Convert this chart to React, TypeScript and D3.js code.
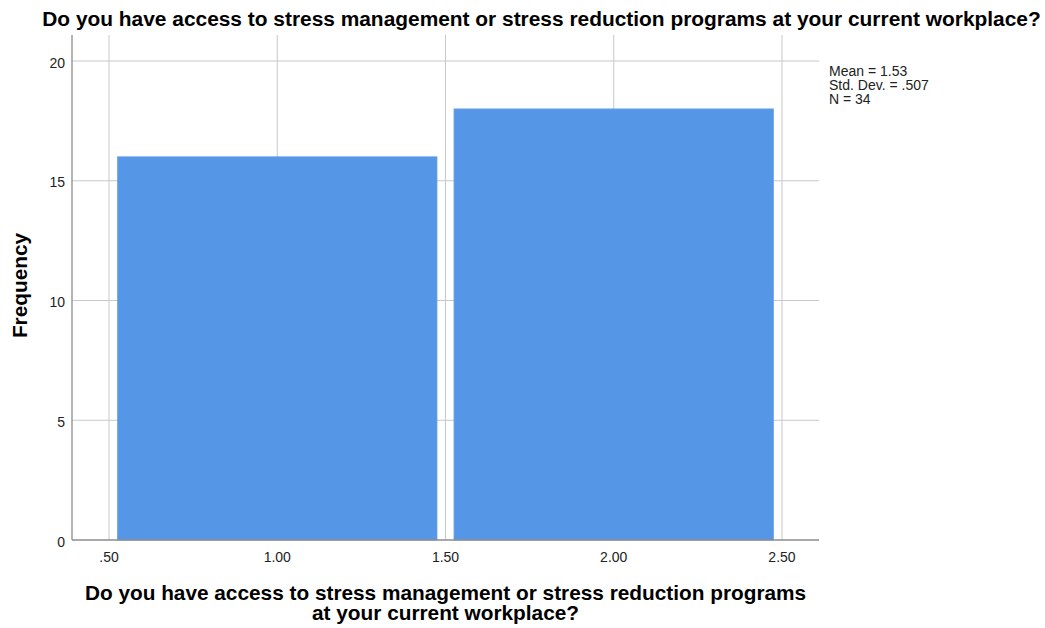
import React from "react";
import * as d3 from "d3";

const binStarts = [0.5, 1.5];
const binEnds = [1.5, 2.5];
const frequencies = [16, 18];
const xTicks = [0.5, 1.0, 1.5, 2.0, 2.5];
const xTickLabels = [".50", "1.00", "1.50", "2.00", "2.50"];
const yTicks = [0, 5, 10, 15, 20];
const statsLines = ["Mean = 1.53", "Std. Dev. = .507", "N = 34"];
const titleText = "Do you have access to stress management or stress reduction programs at your current workplace?";
const xLabelLines = [
  "Do you have access to stress management or stress reduction programs",
  "at your current workplace?",
];
const yLabelText = "Frequency";

const W = 1045;
const H = 628;
const left = 72;
const right = 819;
const top = 35;
const bottom = 540;
const FONT = "'Liberation Sans', Arial, sans-serif";

export default function App() {
  const x = d3.scaleLinear().domain([0.39, 2.61]).range([left, right]);
  const y = d3.scaleLinear().domain([0, 20]).range([bottom, 61]);
  const inset = 8.5;

  return (
    <svg
      width={W}
      height={H}
      style={{ position: "absolute", left: 0, top: 0, background: "#fff" }}
      fontFamily={FONT}
    >
      <rect x={0} y={0} width={W} height={H} fill="#fff" />
      {/* grid lines */}
      {yTicks.filter((t) => t > 0).map((t) => (
        <line key={"gy" + t} x1={left} x2={right} y1={y(t)} y2={y(t)} stroke="#c8c8c8" strokeWidth={1} />
      ))}
      {xTicks.map((t) => (
        <line key={"gx" + t} x1={x(t)} x2={x(t)} y1={top} y2={bottom} stroke="#c8c8c8" strokeWidth={1} />
      ))}
      {/* bars */}
      {frequencies.map((f, i) => (
        <rect
          key={"b" + i}
          x={x(binStarts[i]) + inset}
          y={y(f)}
          width={x(binEnds[i]) - x(binStarts[i]) - 2 * inset}
          height={bottom - y(f)}
          fill="#5596e6"
          stroke="#6aa3ea"
          strokeWidth={0.8}
        />
      ))}
      {/* axes */}
      <line x1={left} x2={left} y1={top} y2={bottom} stroke="#8c8c8c" strokeWidth={1.3} />
      <line x1={left} x2={right} y1={bottom} y2={bottom} stroke="#8c8c8c" strokeWidth={1.3} />
      {yTicks.map((t) => (
        <text key={"yl" + t} x={left - 7} y={y(t) + 6.5} textAnchor="end" fontSize={14} fill="#222">
          {t}
        </text>
      ))}
      {xTicks.map((t, i) => (
        <text key={"xl" + t} x={x(t)} y={561.5} textAnchor="middle" fontSize={14} fill="#222">
          {xTickLabels[i]}
        </text>
      ))}
      {/* title */}
      <text x={541.5} y={26} textAnchor="middle" fontSize={20.9} fontWeight="bold" fill="#000">
        {titleText}
      </text>
      {/* x label */}
      {xLabelLines.map((l, i) => (
        <text key={"xt" + i} x={(left + right) / 2} y={600 + i * 20} textAnchor="middle" fontSize={20.8} fontWeight="bold" fill="#000">
          {l}
        </text>
      ))}
      {/* y label */}
      <text
        transform={`translate(27, 285.5) rotate(-90)`}
        textAnchor="middle"
        fontSize={20.8}
        fontWeight="bold"
        fill="#000"
      >
        {yLabelText}
      </text>
      {/* stats */}
      {statsLines.map((s, i) => (
        <text key={"s" + i} x={829} y={76 + i * 14} fontSize={14} fill="#222">
          {s}
        </text>
      ))}
    </svg>
  );
}
